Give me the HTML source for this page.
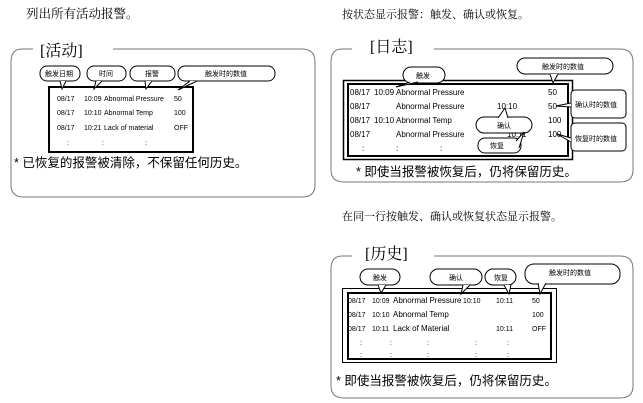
<!DOCTYPE html>
<html><head><meta charset="utf-8"><style>
html,body{margin:0;padding:0;background:#fff;}
svg{display:block;font-family:"Liberation Sans","Noto Sans CJK SC",sans-serif;}
.t{font-size:8px;fill:#000;}
.s{font-size:7px;fill:#000;}
.c{font-size:12.5px;fill:#000;}
.top{font-size:11px;fill:#000;font-family:"Liberation Serif","Noto Serif CJK SC",serif;}
.h{font-size:16px;fill:#000;font-family:"Liberation Serif","Noto Serif CJK SC",serif;}
.b{fill:#fff;stroke:#000;stroke-width:1;}
</style></head><body>
<svg width="643" height="403" viewBox="0 0 643 403" xmlns="http://www.w3.org/2000/svg">
<text class="top" x="26" y="18" style="font-size:12.5px">列出所有活动报警。</text>
<text class="top" x="342" y="18">按状态显示报警：触发、确认或恢复。</text>
<text class="top" x="342" y="220">在同一行按触发、确认或恢复状态显示报警。</text>

<!-- Panel 1 -->
<path d="M33,49 L22,49 Q11,49 11,62 L11,185 Q11,197 24,197 L302,197 Q315,197 315,185 L315,62 Q315,49 302,49 L113,49" fill="none" stroke="#777" stroke-width="1"/>
<text class="h" x="40" y="56">[活动]</text>
<rect x="49" y="87" width="144" height="65" fill="none" stroke="#000" stroke-width="2"/>
<g>
<rect class="b" x="40" y="66" width="40" height="15" rx="7"/><path d="M60,81 L62,89 L66,81" class="b"/>
<text class="s" x="45" y="76">触发日期</text>
<rect class="b" x="87" y="66" width="39" height="15" rx="7"/><path d="M96,81 L94,89 L102,81" class="b"/>
<text class="s" x="99" y="76">时间</text>
<rect class="b" x="130" y="66" width="45" height="15" rx="7"/><path d="M145,81 L146,89 L152,81" class="b"/>
<text class="s" x="145" y="76">报警</text>
<rect class="b" x="178" y="66" width="97" height="15" rx="7"/><path d="M190,81 L178,90 L197,81" class="b"/>
<text class="s" x="205" y="76">触发时的数值</text>
</g>
<g class="s">
<text x="57" y="101">08/17</text><text x="84" y="101">10:09</text><text x="104" y="101">Abnormal Pressure</text><text x="174" y="101">50</text>
<text x="57" y="115">08/17</text><text x="84" y="115">10:10</text><text x="104" y="115">Abnormal Temp</text><text x="174" y="115">100</text>
<text x="57" y="130">08/17</text><text x="84" y="130">10:21</text><text x="104" y="130">Lack of material</text><text x="174" y="130">OFF</text>
<text x="67" y="145">:</text><text x="102" y="145">:</text><text x="145" y="145">:</text>
</g>
<text class="c" x="14" y="167">* 已恢复的报警被清除，不保留任何历史。</text>

<!-- Panel 2 -->
<path d="M352,49 L342,49 Q331,49 331,62 L331,170 Q331,182 344,182 L620,182 Q633,182 633,170 L633,62 Q633,49 620,49 L434,49" fill="none" stroke="#777" stroke-width="1"/>
<text class="h" x="370" y="52">[日志]</text>
<rect x="343.5" y="80.5" width="229" height="79" fill="none" stroke="#000" stroke-width="1.5"/>
<rect x="348" y="84" width="220" height="72" fill="none" stroke="#000" stroke-width="2"/>
<g class="s" style="font-size:8px">
<text x="350" y="95">08/17</text><text x="374" y="95">10:09</text><text x="396" y="95">Abnormal Pressure</text><text x="548" y="95">50</text>
<text x="350" y="109">08/17</text><text x="396" y="109">Abnormal Pressure</text><text x="497" y="109">10:10</text><text x="548" y="109">50</text>
<text x="350" y="123">08/17</text><text x="374" y="123">10:10</text><text x="396" y="123">Abnormal Temp</text><text x="548" y="123">100</text>
<text x="350" y="137">08/17</text><text x="396" y="137">Abnormal Pressure</text><text x="507" y="137">10:11</text><text x="548" y="137">100</text>
<text x="362" y="151">:</text><text x="396" y="151">:</text><text x="440" y="151">:</text>
</g>
<rect class="b" x="403" y="67" width="42" height="16" rx="8"/><path d="M410,82 L396,87 L418,82" class="b"/>
<text class="s" x="416" y="78">触发</text>
<rect class="b" x="517" y="58" width="96" height="16" rx="8"/><path d="M550,74 L553,83 L558,74" class="b"/>
<text class="s" x="542" y="69">触发时的数值</text>
<rect class="b" x="571" y="90" width="55" height="28" rx="4"/><path d="M571,103 L556,106 L571,107" class="b"/>
<text class="s" x="575" y="107">确认时的数值</text>
<rect class="b" x="571" y="123" width="55" height="28" rx="4"/><path d="M571,138 L557,134 L571,142" class="b"/>
<text class="s" x="575" y="141">恢复时的数值</text>
<rect class="b" x="476" y="117" width="56" height="16" rx="8"/><path d="M498,118 L505,108 L508,118" class="b"/>
<text class="s" x="497" y="128">确认</text>
<rect class="b" x="478" y="138" width="43" height="15" rx="7"/><path d="M516,141 L524,132 L519,148" class="b"/>
<text class="s" x="490" y="148">恢复</text>
<text class="c" x="356" y="176">* 即使当报警被恢复后，仍将保留历史。</text>

<!-- Panel 3 -->
<path d="M352,256 L342,256 Q331,256 331,269 L331,386 Q331,398 344,398 L620,398 Q633,398 633,386 L633,269 Q633,256 620,256 L434,256" fill="none" stroke="#777" stroke-width="1"/>
<text class="h" x="365" y="259">[历史]</text>
<rect x="342.5" y="288.5" width="214" height="74" fill="none" stroke="#000" stroke-width="1"/>
<rect x="348" y="293" width="203" height="66" fill="none" stroke="#000" stroke-width="2"/>
<rect class="b" x="360" y="269" width="40" height="16" rx="8"/><path d="M378,285 L381,293 L386,285" class="b"/>
<text class="s" x="373" y="280">触发</text>
<rect class="b" x="430" y="269" width="52" height="16" rx="8"/><path d="M463,285 L461,294 L470,285" class="b"/>
<text class="s" x="449" y="280">确认</text>
<rect class="b" x="485" y="269" width="31" height="16" rx="8"/><path d="M504,285 L509,294 L511,285" class="b"/>
<text class="s" x="494" y="280">恢复</text>
<rect class="b" x="525" y="264" width="95" height="20" rx="9"/><path d="M538,283 L540,294 L546,283" class="b"/>
<text class="s" x="549" y="275">触发时的数值</text>
<g class="s">
<text x="348" y="303">08/17</text><text x="372" y="303">10:09</text><text x="393" y="303" font-size="8">Abnormal Pressure</text><text x="463" y="303">10:10</text><text x="496" y="303">10:11</text><text x="532" y="303">50</text>
<text x="348" y="317">08/17</text><text x="372" y="317">10:10</text><text x="393" y="317" font-size="8">Abnormal Temp</text><text x="532" y="317">100</text>
<text x="348" y="331">08/17</text><text x="372" y="331">10:11</text><text x="393" y="331" font-size="8">Lack of Material</text><text x="496" y="331">10:11</text><text x="532" y="331">OFF</text>
<text x="360" y="345">:</text><text x="390" y="345">:</text><text x="427" y="345">:</text><text x="475" y="345">:</text><text x="507" y="345">:</text>
<text x="360" y="357">:</text><text x="390" y="357">:</text><text x="427" y="357">:</text><text x="475" y="357">:</text><text x="507" y="357">:</text>
</g>
<text class="c" x="336" y="385">* 即使当报警被恢复后，仍将保留历史。</text>
</svg>
</body></html>
